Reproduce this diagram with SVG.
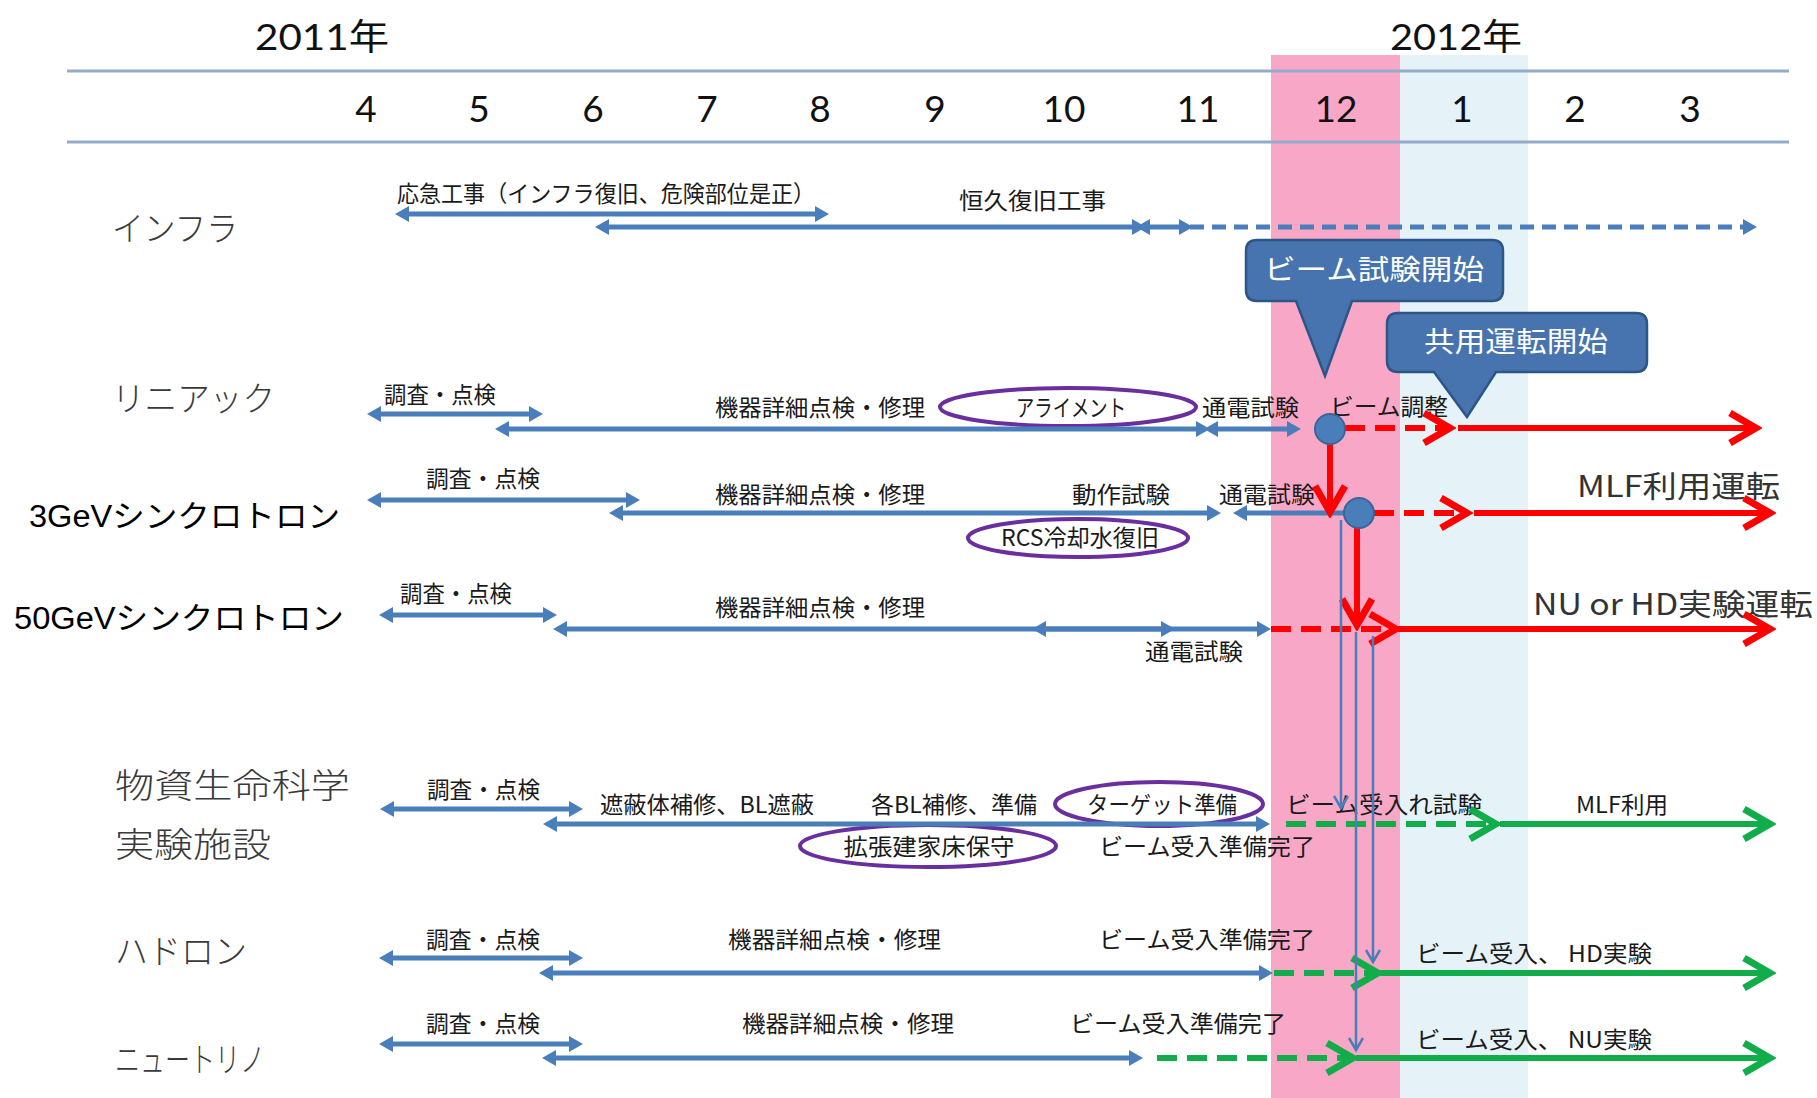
<svg xmlns="http://www.w3.org/2000/svg" width="1817" height="1098" viewBox="0 0 1817 1098">
<style>
.hdr{stroke:#93ACCB;stroke-width:3;fill:none}
.mon{font-family:"Lato","Liberation Sans",sans-serif;font-size:37px;fill:#111;text-anchor:middle}
.yr{font-family:"Lato","Noto Sans CJK JP",sans-serif;font-size:36px;fill:#111}
.row{font-family:"Noto Sans CJK JP",sans-serif;font-size:34px;font-weight:300;fill:#3a3a3a}
.rowb{font-family:"Liberation Sans","Noto Sans CJK JP",sans-serif;font-size:31px;fill:#000}
.lb{font-family:"Noto Sans CJK JP",sans-serif;font-size:23px;fill:#1a1a1a}
.lbc{font-family:"Noto Sans CJK JP",sans-serif;font-size:23px;fill:#1a1a1a;text-anchor:middle}
.big{font-family:"Noto Sans CJK JP",sans-serif;font-size:30px;fill:#333}
.co{fill:#4774AE;stroke:#2C5687;stroke-width:2.5}
.cot{font-family:"Noto Sans CJK JP",sans-serif;font-size:28px;fill:#fff;text-anchor:middle}
.ell{fill:none;stroke:#6A2E9E;stroke-width:4}
.b{stroke:#4A7EBB;stroke-width:5;fill:none;marker-start:url(#bh);marker-end:url(#bh)}
.be{stroke:#4A7EBB;stroke-width:5;fill:none;marker-end:url(#bh)}
.bs{stroke:#4A7EBB;stroke-width:5;fill:none;marker-start:url(#bh)}
.bd{stroke:#4A7EBB;stroke-width:5;fill:none;stroke-dasharray:14 8;marker-end:url(#bh)}
.r{stroke:#FF0000;stroke-width:6;fill:none;marker-end:url(#rh)}
.rd{stroke:#FF0000;stroke-width:6;fill:none;stroke-dasharray:20 10;marker-end:url(#rh)}
.g{stroke:#12AD4B;stroke-width:6;fill:none;marker-end:url(#gh)}
.gd{stroke:#12AD4B;stroke-width:6;fill:none;stroke-dasharray:20 10;marker-end:url(#gh)}
.tv{stroke:#4A7EBB;stroke-width:2.5;fill:none;marker-end:url(#th)}
.dot{fill:#4A7EBB;stroke:#3A6599;stroke-width:2}
</style>
<defs>
<marker id="bh" viewBox="-10 -9 16 18" refX="0" refY="0" markerWidth="16" markerHeight="18" markerUnits="userSpaceOnUse" orient="auto-start-reverse">
<path d="M -9 -8 L 5 0 L -9 8 Z" fill="#4A7EBB"/>
</marker>
<marker id="rh" viewBox="-34 -22 40 44" refX="0" refY="0" markerWidth="40" markerHeight="44" markerUnits="userSpaceOnUse" orient="auto">
<path d="M -26 -15 L 0 0 L -26 15" fill="none" stroke="#FF0000" stroke-width="7"/>
</marker>
<marker id="gh" viewBox="-34 -22 40 44" refX="0" refY="0" markerWidth="40" markerHeight="44" markerUnits="userSpaceOnUse" orient="auto">
<path d="M -26 -15 L 0 0 L -26 15" fill="none" stroke="#12AD4B" stroke-width="7"/>
</marker>
<marker id="th" viewBox="-14 -10 18 20" refX="0" refY="0" markerWidth="18" markerHeight="20" markerUnits="userSpaceOnUse" orient="auto">
<path d="M -12 -7 L 0 0 L -12 7" fill="none" stroke="#4A7EBB" stroke-width="2.5"/>
</marker>
</defs>
<rect x="0" y="0" width="1817" height="1098" fill="#fff"/>
<g id="bands">
<rect x="1271" y="55" width="129" height="1043" fill="#F8A7C6"/>
<rect x="1400" y="55" width="128" height="1043" fill="#E5F2F8"/>
</g>
<g id="header">
<line class="hdr" x1="67" y1="71" x2="1789" y2="71"/>
<line class="hdr" x1="67" y1="142" x2="1789" y2="142"/>
<text class="yr" x="255" y="50" textLength="134" lengthAdjust="spacingAndGlyphs">2011年</text>
<text class="yr" x="1390" y="50" textLength="132" lengthAdjust="spacingAndGlyphs">2012年</text>
<text class="mon" x="366" y="122">4</text>
<text class="mon" x="479" y="122">5</text>
<text class="mon" x="593" y="122">6</text>
<text class="mon" x="707" y="122">7</text>
<text class="mon" x="820" y="122">8</text>
<text class="mon" x="935" y="122">9</text>
<text class="mon" x="1064" y="122">10</text>
<text class="mon" x="1198" y="122">11</text>
<text class="mon" x="1336" y="122">12</text>
<text class="mon" x="1462" y="122">1</text>
<text class="mon" x="1575" y="122">2</text>
<text class="mon" x="1690" y="122">3</text>
</g>
<g id="row-infra">
<text class="row" x="112" y="241" textLength="126" lengthAdjust="spacingAndGlyphs">インフラ</text>
<text class="lb" x="397" y="202" textLength="418" lengthAdjust="spacingAndGlyphs">応急工事（インフラ復旧、危険部位是正）</text>
<text class="lb" x="959" y="209" textLength="147" lengthAdjust="spacingAndGlyphs">恒久復旧工事</text>
</g>
<g id="row-linac">
<text class="row" x="112" y="411" textLength="163" lengthAdjust="spacingAndGlyphs">リニアック</text>
<text class="lb" x="384" y="403" textLength="112" lengthAdjust="spacingAndGlyphs">調査・点検</text>
<text class="lb" x="715" y="416" textLength="210" lengthAdjust="spacingAndGlyphs">機器詳細点検・修理</text>
<ellipse class="ell" cx="1068" cy="407" rx="128" ry="19"/>
<text class="lbc" x="1071" y="416" textLength="110" lengthAdjust="spacingAndGlyphs">アライメント</text>
<text class="lb" x="1202" y="416" textLength="97" lengthAdjust="spacingAndGlyphs">通電試験</text>
<text class="lb" x="1330" y="415" textLength="118" lengthAdjust="spacingAndGlyphs">ビーム調整</text>
</g>
<g id="row-3gev">
<text class="rowb" x="29" y="527" textLength="311" lengthAdjust="spacingAndGlyphs">3GeVシンクロトロン</text>
<text class="lb" x="426" y="487" textLength="114" lengthAdjust="spacingAndGlyphs">調査・点検</text>
<text class="lb" x="715" y="503" textLength="210" lengthAdjust="spacingAndGlyphs">機器詳細点検・修理</text>
<text class="lb" x="1072" y="503" textLength="98" lengthAdjust="spacingAndGlyphs">動作試験</text>
<text class="lb" x="1219" y="503" textLength="96" lengthAdjust="spacingAndGlyphs">通電試験</text>
<ellipse class="ell" cx="1078" cy="538" rx="110" ry="19"/>
<text class="lbc" x="1080" y="546" textLength="158" lengthAdjust="spacingAndGlyphs">RCS冷却水復旧</text>
<text class="big" x="1577" y="497" textLength="203" lengthAdjust="spacingAndGlyphs">MLF利用運転</text>
</g>
<g id="row-50gev">
<text class="rowb" x="14" y="629" textLength="330" lengthAdjust="spacingAndGlyphs">50GeVシンクロトロン</text>
<text class="lb" x="400" y="602" textLength="112" lengthAdjust="spacingAndGlyphs">調査・点検</text>
<text class="lb" x="715" y="616" textLength="210" lengthAdjust="spacingAndGlyphs">機器詳細点検・修理</text>
<text class="lb" x="1145" y="660" textLength="98" lengthAdjust="spacingAndGlyphs">通電試験</text>
<text class="big" x="1533" y="615" textLength="280" lengthAdjust="spacingAndGlyphs">NU or HD実験運転</text>
</g>
<g id="row-mlf">
<text class="row" x="115" y="798" textLength="235" lengthAdjust="spacingAndGlyphs">物資生命科学</text>
<text class="row" x="115" y="857" textLength="156" lengthAdjust="spacingAndGlyphs">実験施設</text>
<text class="lb" x="427" y="798" textLength="113" lengthAdjust="spacingAndGlyphs">調査・点検</text>
<text class="lb" x="600" y="813" textLength="214" lengthAdjust="spacingAndGlyphs">遮蔽体補修、BL遮蔽</text>
<text class="lb" x="871" y="813" textLength="166" lengthAdjust="spacingAndGlyphs">各BL補修、準備</text>
<ellipse class="ell" cx="1159" cy="804" rx="104" ry="22"/>
<text class="lbc" x="1162" y="813" textLength="150" lengthAdjust="spacingAndGlyphs">ターゲット準備</text>
<ellipse class="ell" cx="928" cy="846" rx="128" ry="21"/>
<text class="lbc" x="929" y="855" textLength="171" lengthAdjust="spacingAndGlyphs">拡張建家床保守</text>
<text class="lb" x="1099" y="855" textLength="216" lengthAdjust="spacingAndGlyphs">ビーム受入準備完了</text>
<text class="lb" x="1286" y="813" textLength="196" lengthAdjust="spacingAndGlyphs">ビーム受入れ試験</text>
<text class="lb" x="1576" y="813" textLength="92" lengthAdjust="spacingAndGlyphs">MLF利用</text>
</g>
<g id="row-hadron">
<text class="row" x="115" y="964" textLength="132" lengthAdjust="spacingAndGlyphs">ハドロン</text>
<text class="lb" x="426" y="948" textLength="114" lengthAdjust="spacingAndGlyphs">調査・点検</text>
<text class="lb" x="728" y="948" textLength="213" lengthAdjust="spacingAndGlyphs">機器詳細点検・修理</text>
<text class="lb" x="1099" y="948" textLength="216" lengthAdjust="spacingAndGlyphs">ビーム受入準備完了</text>
<text class="lb" x="1416" y="962" textLength="236" lengthAdjust="spacingAndGlyphs">ビーム受入、 HD実験</text>
</g>
<g id="row-neutrino">
<text class="row" x="115" y="1072" textLength="150" lengthAdjust="spacingAndGlyphs">ニュートリノ</text>
<text class="lb" x="426" y="1032" textLength="114" lengthAdjust="spacingAndGlyphs">調査・点検</text>
<text class="lb" x="742" y="1032" textLength="212" lengthAdjust="spacingAndGlyphs">機器詳細点検・修理</text>
<text class="lb" x="1070" y="1032" textLength="216" lengthAdjust="spacingAndGlyphs">ビーム受入準備完了</text>
<text class="lb" x="1416" y="1048" textLength="236" lengthAdjust="spacingAndGlyphs">ビーム受入、 NU実験</text>
</g>
<g id="connectors">
<line class="b" x1="400" y1="214" x2="824" y2="214"/>
<line class="b" x1="600" y1="227" x2="1141" y2="227"/>
<line class="b" x1="1141" y1="227" x2="1188" y2="227"/>
<line class="bd" x1="1190" y1="227" x2="1752" y2="227"/>
<line class="b" x1="372" y1="414" x2="538" y2="414"/>
<line class="b" x1="500" y1="429" x2="1205" y2="429"/>
<line class="b" x1="1209" y1="429" x2="1296" y2="429"/>
<line class="b" x1="372" y1="500" x2="635" y2="500"/>
<line class="b" x1="614" y1="513" x2="1216" y2="513"/>
<line class="bs" x1="1238" y1="513" x2="1345" y2="513"/>
<line class="b" x1="384" y1="615" x2="552" y2="615"/>
<line class="b" x1="558" y1="629" x2="1170" y2="629"/>
<line class="b" x1="1037" y1="629" x2="1266" y2="629"/>
<line class="b" x1="385" y1="809" x2="578" y2="809"/>
<line class="b" x1="548" y1="824" x2="1265" y2="824"/>
<line class="b" x1="384" y1="958" x2="578" y2="958"/>
<line class="b" x1="544" y1="973" x2="1268" y2="973"/>
<line class="b" x1="384" y1="1044" x2="578" y2="1044"/>
<line class="b" x1="547" y1="1058" x2="1138" y2="1058"/>
<line class="rd" x1="1345" y1="428" x2="1450" y2="428"/>
<line class="r" x1="1458" y1="428" x2="1756" y2="428"/>
<line class="rd" x1="1374" y1="513" x2="1467" y2="513"/>
<line class="r" x1="1474" y1="513" x2="1770" y2="513"/>
<line class="rd" x1="1271" y1="629" x2="1396" y2="629"/>
<line class="r" x1="1398" y1="629" x2="1770" y2="629"/>
<line class="r" x1="1330" y1="444" x2="1330" y2="512"/>
<line class="r" x1="1357" y1="528" x2="1357" y2="625"/>
<line class="gd" x1="1286" y1="824" x2="1496" y2="824"/>
<line class="g" x1="1500" y1="824" x2="1770" y2="824"/>
<line class="gd" x1="1274" y1="973" x2="1378" y2="973"/>
<line class="g" x1="1380" y1="973" x2="1770" y2="973"/>
<line class="gd" x1="1157" y1="1058" x2="1353" y2="1058"/>
<line class="g" x1="1356" y1="1058" x2="1770" y2="1058"/>
<line class="tv" x1="1341" y1="520" x2="1341" y2="808"/>
<line class="tv" x1="1356" y1="632" x2="1356" y2="1050"/>
<line class="tv" x1="1373" y1="636" x2="1373" y2="962"/>
<circle class="dot" cx="1330" cy="429" r="15"/>
<circle class="dot" cx="1359" cy="513" r="15"/>
</g>
<g id="callout-beam-test">
<path class="co" d="M 1257 240 H 1492 Q 1503 240 1503 251 V 290 Q 1503 301 1492 301 H 1352 L 1325 376 L 1296 301 H 1257 Q 1246 301 1246 290 V 251 Q 1246 240 1257 240 Z"/>
<text class="cot" x="1374" y="280" textLength="220" lengthAdjust="spacingAndGlyphs">ビーム試験開始</text>
</g>
<g id="callout-shared-op">
<path class="co" d="M 1398 313 H 1636 Q 1647 313 1647 324 V 361 Q 1647 372 1636 372 H 1496 L 1467 417 L 1434 372 H 1398 Q 1387 372 1387 361 V 324 Q 1387 313 1398 313 Z"/>
<text class="cot" x="1516" y="352" textLength="184" lengthAdjust="spacingAndGlyphs">共用運転開始</text>
</g>
</svg>
